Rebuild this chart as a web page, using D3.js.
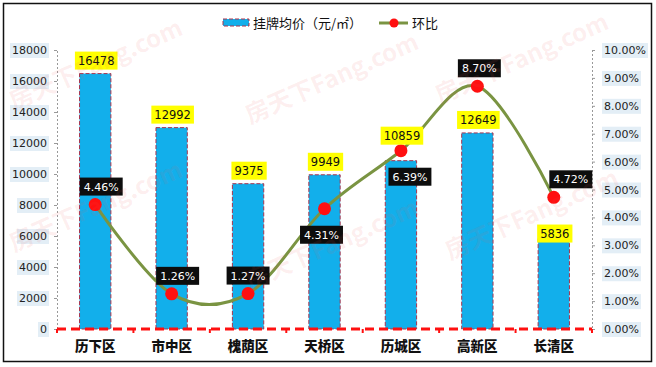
<!DOCTYPE html>
<html><head><meta charset="utf-8">
<script src="https://cdn.jsdelivr.net/npm/d3@7"></script>
<style>body{margin:0;background:#fff}svg{display:block}</style>
</head><body>
<svg id="chart" width="656" height="367"></svg>
<script>
// ---- data ----
const categories = ["历下区","市中区","槐荫区","天桥区","历城区","高新区","长清区"];
const prices = [16478, 12992, 9375, 9949, 10859, 12649, 5836];
const ratios = [4.46, 1.26, 1.27, 4.31, 6.39, 8.70, 4.72];
const leftTicks = [0,2000,4000,6000,8000,10000,12000,14000,16000,18000];
const rightTicks = [0,1,2,3,4,5,6,7,8,9,10];
const seriesNames = ["挂牌均价（元/㎡）", "环比"];
const watermarkText = "房天下Fang.com";

// ---- layout / style ----
const W = 656, H = 367;
const plot = {left: 57, right: 592, top: 50, bottom: 329};
const blue = "#12AFEB", olive = "#7A9442", red = "#FF1010";
// label placement tweaks (not data)
const ratioLabelSide = ["above","above","above","below","below","above","above"];
const ratioLabelDx = [6, 6, 0, -3, 9, 2, 17];
const priceLabelDy = [0, 0, 0, 0, -12, 0, 8];
const watermarks = [[14,110],[250,124],[440,104],[14,252],[250,290],[450,260]];

const svg = d3.select("#chart");
svg.append("rect").attr("width",W).attr("height",H).attr("fill","#fff");

svg.append("rect").attr("x",3.5).attr("y",3.5).attr("width",648).attr("height",358)
  .attr("fill","none").attr("stroke","#111").attr("stroke-width",1.5);

const x = d3.scaleBand().domain(categories).range([plot.left, plot.right]);
const yL = d3.scaleLinear().domain([0,18000]).range([plot.bottom, plot.top]);
const yR = d3.scaleLinear().domain([0,10]).range([plot.bottom, plot.top]);
const barW = x.bandwidth()*0.41;
const cx = c => x(c) + x.bandwidth()/2;

function styleAxis(ax){
  ax.select(".domain").attr("stroke","#999").attr("stroke-dasharray","2,2");
  ax.selectAll(".tick line").attr("stroke","#999");
  ax.selectAll(".tick text").attr("font-family","'DejaVu Sans', sans-serif").attr("font-size",11).attr("fill","#222");
  ax.selectAll(".tick").each(function(){
    const t = d3.select(this), b = t.select("text").node().getBBox();
    t.insert("rect","text").attr("x",b.x-2).attr("y",b.y-1).attr("width",b.width+4).attr("height",b.height+2).attr("fill","#e3eef6");
  });
}
// left axis
styleAxis(svg.append("g").attr("transform",`translate(${plot.left},0)`)
  .call(d3.axisLeft(yL).tickValues(leftTicks).tickSize(3).tickPadding(7).tickFormat(d=>d)));
// right axis
styleAxis(svg.append("g").attr("transform",`translate(${plot.right},0)`)
  .call(d3.axisRight(yR).tickValues(rightTicks).tickSize(3).tickPadding(9).tickFormat(d=>d.toFixed(2)+"%")));

// bars
svg.append("g").selectAll("rect").data(categories).join("rect")
  .attr("x",c=>cx(c)-barW/2).attr("y",(c,i)=>yL(prices[i]))
  .attr("width",barW).attr("height",(c,i)=>plot.bottom-yL(prices[i]))
  .attr("fill",blue).attr("stroke","#A8344E").attr("stroke-width",1).attr("stroke-dasharray","4,2");

// baseline (category axis)
const axB = svg.append("g").attr("transform",`translate(0,${plot.bottom})`);
axB.append("line").attr("x1",plot.left).attr("x2",plot.right).attr("stroke",red).attr("stroke-width",3).attr("stroke-dasharray","9,5");
axB.selectAll("line.tk").data(categories.map(c=>x(c)).concat([plot.right])).join("line").attr("class","tk")
  .attr("x1",d=>d).attr("x2",d=>d).attr("y1",0).attr("y2",4).attr("stroke",red).attr("stroke-width",2);
axB.selectAll("text").data(categories).join("text")
  .attr("x",cx).attr("y",22).attr("text-anchor","middle")
  .attr("font-family","'Noto Sans CJK SC', sans-serif").attr("font-weight","900").attr("font-size",13.5).attr("fill","#111")
  .text(d=>d);

// line
const line = d3.line().x((d,i)=>cx(categories[i])).y(d=>yR(d)).curve(d3.curveCardinal.tension(0));
svg.append("path").datum(ratios).attr("d",line).attr("fill","none").attr("stroke",olive).attr("stroke-width",3);
svg.append("g").selectAll("circle").data(ratios).join("circle")
  .attr("cx",(d,i)=>cx(categories[i])).attr("cy",d=>yR(d)).attr("r",6.5).attr("fill",red);

// price labels
const pl = svg.append("g");
categories.forEach((c,i)=>{
  const g = pl.append("g");
  const t = g.append("text").attr("x",cx(c)+1).attr("y",yL(prices[i])-9+priceLabelDy[i]).attr("text-anchor","middle")
    .attr("font-family","'DejaVu Sans', sans-serif").attr("font-size",11.5).attr("fill","#111").text(prices[i]);
  const b = t.node().getBBox();
  g.insert("rect","text").attr("x",b.x-3).attr("y",b.y-2).attr("width",b.width+6).attr("height",b.height+4).attr("fill","#FFFF00");
});

// ratio labels
const rl = svg.append("g");
ratios.forEach((v,i)=>{
  const px = cx(categories[i]) + ratioLabelDx[i], py = yR(v);
  const g = rl.append("g");
  const ty = ratioLabelSide[i]==="above" ? py-14 : py+30;
  const t = g.append("text").attr("x",px).attr("y",ty).attr("text-anchor","middle")
    .attr("font-family","'DejaVu Sans', sans-serif").attr("font-size",11).attr("fill","#fff").text(v.toFixed(2)+"%");
  const b = t.node().getBBox();
  g.insert("rect","text").attr("x",b.x-4).attr("y",b.y-3).attr("width",b.width+8).attr("height",b.height+5).attr("fill","#0d0d0d");
});

// legend
const lg = svg.append("g");
lg.append("rect").attr("x",223).attr("y",19).attr("width",26).attr("height",7)
  .attr("fill",blue).attr("stroke","#A8344E").attr("stroke-dasharray","4,2");
lg.append("text").attr("x",253).attr("y",27.5).attr("font-family","'Noto Sans CJK SC', sans-serif").attr("font-size",13).attr("fill","#111").text(seriesNames[0]);
lg.append("line").attr("x1",379).attr("x2",408).attr("y1",23).attr("y2",23).attr("stroke",olive).attr("stroke-width",3);
lg.append("circle").attr("cx",394).attr("cy",23).attr("r",4.5).attr("fill",red);
lg.append("text").attr("x",412).attr("y",27.5).attr("font-family","'Noto Sans CJK SC', sans-serif").attr("font-size",13).attr("fill","#111").text(seriesNames[1]);

// watermarks (overlaid, faint)
const wm = svg.append("g").attr("pointer-events","none");
watermarks.forEach(([x,y]) => {
  wm.append("text").attr("transform",`translate(${x},${y}) rotate(-24)`)
    .attr("font-family","'Noto Sans CJK SC', sans-serif").attr("font-size",24).attr("font-weight","bold")
    .attr("fill","rgb(235,90,90)").attr("fill-opacity",0.1).text(watermarkText);
});
</script>
</body></html>
